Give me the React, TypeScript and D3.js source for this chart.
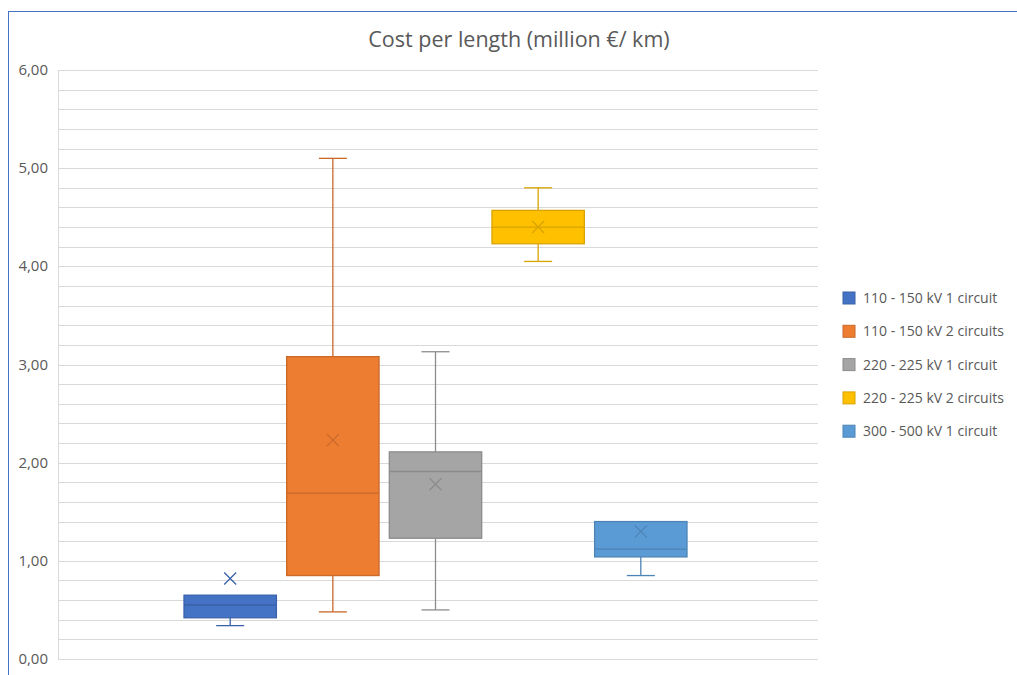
import React from "react";
import * as d3 from "d3";

const seriesNames = [
  "110 - 150 kV 1 circuit",
  "110 - 150 kV 2 circuits",
  "220 - 225 kV 1 circuit",
  "220 - 225 kV 2 circuits",
  "300 - 500 kV 1 circuit",
];
const minValues = [0.34, 0.48, 0.5, 4.05, 0.85];
const q1Values = [0.42, 0.85, 1.23, 4.23, 1.04];
const medianValues = [0.55, 1.69, 1.91, 4.4, 1.12];
const q3Values = [0.65, 3.08, 2.11, 4.57, 1.4];
const maxValues = [0.65, 5.1, 3.13, 4.8, 1.4];
const meanValues = [0.82, 2.23, 1.78, 4.4, 1.3];
const fills = ["#4472C4", "#ED7D31", "#A5A5A5", "#FFC000", "#5B9BD5"];
const strokes = ["#3A62AA", "#C9692A", "#8C8C8C", "#D9A300", "#4D84B5"];
const yTicks = [0, 1, 2, 3, 4, 5, 6];
const yGrid = d3.range(0, 6.0001, 0.2);
const title = "Cost per length (million €/ km)";

export default function App() {
  const W = 1017, H = 675;
  const left = 58, right = 818, top = 70, bottom = 659;
  const y = d3.scaleLinear().domain([0, 6]).range([bottom, top]);
  const x = d3.scaleBand().domain(seriesNames).range([184, 687]).paddingInner(0.1);
  const fmt = (v: number) => v.toFixed(2).replace(".", ",");
  const font = "'Open Sans', sans-serif";
  return (
    <svg width={W} height={H} style={{ position: "absolute", left: 0, top: 0, background: "#fff" }}>
      <rect x={8.5} y={11.5} width={1100} height={800} fill="#fff" stroke="#4472C4" strokeWidth={1} />
      <text x={519} y={47} textAnchor="middle" fontFamily={font} fontSize={21.5} fill="#595959">{title}</text>
      {yGrid.map((v, i) => (
        <line key={i} x1={left} x2={right} y1={Math.round(y(v)) + 0.5} y2={Math.round(y(v)) + 0.5} stroke="#D9D9D9" strokeWidth={1} />
      ))}
      <line x1={left + 0.5} x2={left + 0.5} y1={top} y2={bottom} stroke="#D9D9D9" />
      {yTicks.map((v) => (
        <text key={v} x={48} y={y(v) + 5} textAnchor="end" fontFamily={font} fontSize={15} fill="#595959">{fmt(v)}</text>
      ))}
      {seriesNames.map((s, i) => {
        const x0 = x(s)!;
        const bw = x.bandwidth();
        const cx = x0 + bw / 2;
        const cap = 14;
        const mx = y(meanValues[i]);
        return (
          <g key={s}>
            <line x1={cx} x2={cx} y1={y(maxValues[i])} y2={y(q3Values[i])} stroke={strokes[i]} strokeWidth={1.3} />
            <line x1={cx} x2={cx} y1={y(q1Values[i])} y2={y(minValues[i])} stroke={strokes[i]} strokeWidth={1.3} />
            {maxValues[i] > q3Values[i] && (
              <line x1={cx - cap} x2={cx + cap} y1={y(maxValues[i])} y2={y(maxValues[i])} stroke={strokes[i]} strokeWidth={1.3} />
            )}
            <line x1={cx - cap} x2={cx + cap} y1={y(minValues[i])} y2={y(minValues[i])} stroke={strokes[i]} strokeWidth={1.3} />
            <rect x={x0} y={y(q3Values[i])} width={bw} height={y(q1Values[i]) - y(q3Values[i])} fill={fills[i]} stroke={strokes[i]} strokeWidth={1.3} />
            <line x1={x0} x2={x0 + bw} y1={y(medianValues[i])} y2={y(medianValues[i])} stroke={strokes[i]} strokeWidth={1.3} />
            <path d={`M${cx - 6},${mx - 6}L${cx + 6},${mx + 6}M${cx - 6},${mx + 6}L${cx + 6},${mx - 6}`} stroke={strokes[i]} strokeWidth={1.3} fill="none" />
          </g>
        );
      })}
      {seriesNames.map((s, i) => (
        <g key={"l" + s} transform={`translate(843,${298 + i * 33.3})`}>
          <rect x={0} y={-6} width={12} height={12} fill={fills[i]} stroke={strokes[i]} strokeWidth={1} />
          <text x={20} y={5} fontFamily={font} fontSize={14} fill="#595959">{s}</text>
        </g>
      ))}
    </svg>
  );
}
